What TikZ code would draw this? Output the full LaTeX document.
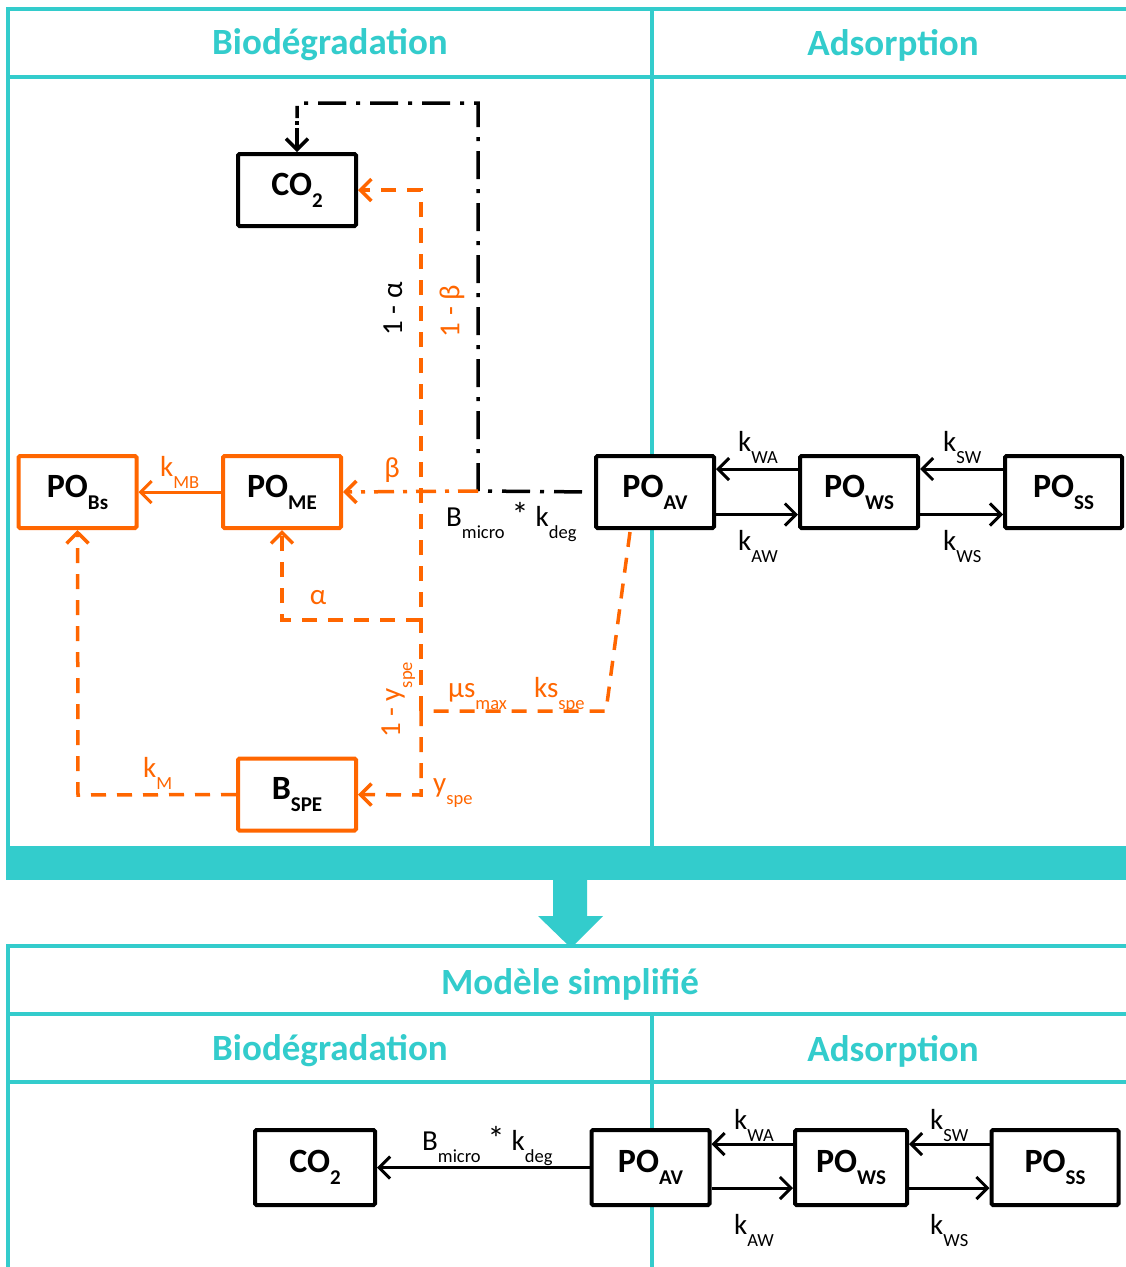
\documentclass[tikz,border=0pt]{standalone}
\usepackage{fontspec}
\setmainfont{Carlito}
\usetikzlibrary{arrows.meta}
\definecolor{tealc}{HTML}{33CCCC}
\definecolor{orng}{HTML}{FF6600}
\newcommand\boxlab[2]{\fontsize{34}{34}\selectfont\bfseries #1\raisebox{-12pt}{\fontsize{21}{21}\selectfont #2}}
\newcommand\klab[2]{\fontsize{29}{29}\selectfont #1\raisebox{-12pt}{\fontsize{18.5}{18.5}\selectfont #2}}
\newcommand\subsm[1]{\raisebox{-12pt}{\fontsize{18.5}{18.5}\selectfont #1}}
\newcommand\astk{{\fontsize{34}{34}\selectfont *}}
\begin{document}
\begin{tikzpicture}[x=1pt,y={(0pt,-1pt)},
  tline/.style={draw=tealc,line width=3.5pt},
  title/.style={text=tealc,font=\fontsize{37}{37}\selectfont\bfseries,inner sep=0pt},
  bbox/.style={draw=black,line width=4pt,rounded corners=1.5pt,minimum width=118pt,minimum height=72pt,inner sep=0pt,fill=white},
  obox/.style={bbox,draw=orng},
  lab/.style={inner sep=0pt,font=\fontsize{29}{29}\selectfont},
  olab/.style={lab,text=orng},
  tip/.style={-{Straight Barb[length=11pt,width=22pt]}},
  barr/.style={tip,draw=black,line width=3pt},
  oarr/.style={tip,draw=orng,line width=3pt},
  odash/.style={draw=orng,line width=3.5pt,dash pattern=on 15pt off 11pt},
  bdashdot/.style={draw=black,line width=3.5pt,dash pattern=on 28pt off 10pt on 4pt off 10pt},
  odashdot/.style={draw=orng,line width=3.5pt,dash pattern=on 20pt off 9pt on 4pt off 9pt}
]
\useasboundingbox (0,0) rectangle (1126,1267);
\fill[white] (0,0) rectangle (1126,1267);

% ---------- top frame ----------
\draw[tline] (6,9) -- (1126,9);
\draw[tline] (8,77) -- (1126,77);
\draw[tline] (8,7) -- (8,847);
\draw[tline] (652,9) -- (652,847);
\fill[tealc] (6,846) rectangle (1126,880);
\fill[tealc] (553,879) -- (587,879) -- (587,916) -- (603,916) -- (571,948) -- (538,916) -- (553,916) -- cycle;
\node[title] (t1) at (330,45) {Biodégradation};
\node[title] (t2) at (893,45) {Adsorption};

% ---------- bottom frame ----------
\draw[tline] (6,946) -- (1126,946);
\draw[tline] (8,1014) -- (1126,1014);
\draw[tline] (8,1082) -- (1126,1082);
\draw[tline] (8,944) -- (8,1267);
\draw[tline] (652,1014) -- (652,1267);
\node[title] (t3) at (570,984) {Modèle simplifié};
\node[title] (t4) at (330,1051) {Biodégradation};
\node[title] (t5) at (893,1051) {Adsorption};

% ---------- top diagram nodes ----------
\node[bbox] (co2) at (297,190) {\boxlab{CO}{2}};
\node[obox] (pobs) at (77.5,492) {\boxlab{PO}{Bs}};
\node[obox] (pome) at (282,492) {\boxlab{PO}{ME}};
\node[bbox] (poav) at (655,492) {\boxlab{PO}{AV}};
\node[bbox] (pows) at (859,492) {\boxlab{PO}{WS}};
\node[bbox,minimum width=117pt] (poss) at (1063.5,492) {\boxlab{PO}{SS}};
\node[obox] (bspe) at (297,794.5) {\boxlab{B}{SPE}};

\coordinate (J) at (478,491);
\coordinate (Jtop) at (478,103);
\coordinate (Ctop) at (297,103);
\coordinate (Cdot) at (297,118);
\coordinate (Carr) at (297,128);
\coordinate (Vtop) at (421,190);
\coordinate (Va) at (421,620);
\coordinate (Aa) at (282,620);
\coordinate (S) at (421,711);
\coordinate (Sr) at (606,711);
\coordinate (Pav) at (630,532);
\coordinate (Vbot) at (421,795);
\coordinate (Km) at (78,795);

% black dash-dot degradation path
\draw[bdashdot,shorten <=12pt] (poav.west) -- (J) -- (Jtop) -- (Ctop) -- (Cdot);
\draw[black,line width=3.5pt] (297,121) -- (297,125);
\draw[barr,line width=3.5pt] (Carr) -- (co2.north);
\draw[odashdot,tip] (J) -- (pome.east);

% orange
\draw[oarr] (pome.west) -- (pobs.east);
\draw[odash] (Pav) -- (Sr) -- (S);
\draw[odash,tip] (S) -- (Vtop) -- (co2.east);
\draw[odash,tip] (Va) -- (Aa) -- (pome.south);
\draw[odash,tip] (S) -- (Vbot) -- (bspe.east);
\draw[odash,tip] (bspe.west) -- (Km) -- (pobs.south);

% adsorption arrows top
\draw[barr] ([yshift=23pt]pows.west) -- ([yshift=23pt]poav.east);
\draw[barr] ([yshift=-22.5pt]poav.east) -- ([yshift=-22.5pt]pows.west);
\draw[barr] ([yshift=23pt]poss.west) -- ([yshift=23pt]pows.east);
\draw[barr] ([yshift=-22.5pt]pows.east) -- ([yshift=-22.5pt]poss.west);

% labels top
\node[olab,anchor=base west] (lkmb) at (160,476) {\klab{k}{MB}};
\node[olab] (lbeta) at (392,470) {β};
\node[olab] (lalpha) at (318,598) {α};
\node[lab,rotate=90] (l1a) at (393,309) {1 - α};
\node[olab,rotate=90] (l1b) at (452,311) {1 - β};
\node[olab,rotate=90,anchor=base] (l1y) at (400,700) {1 - y\subsm{spe}};
\node[olab,anchor=base west] (lyspe) at (433,792) {\klab{y}{spe}};
\node[olab,anchor=base west] (lkm) at (143,777) {\klab{k}{M}};
\node[olab,anchor=base west] (lmus) at (448,697) {\klab{µs}{max}};
\node[olab,anchor=base west] (lkss) at (534,697) {\klab{ks}{spe}};
\node[lab,anchor=base west] (lbk) at (446,526) {B\subsm{micro}\hspace{7pt}\astk\hspace{7pt}k\subsm{deg}};
\node[lab,anchor=base west] (lkwa) at (738,451) {\klab{k}{WA}};
\node[lab,anchor=base west] (lkaw) at (738,550) {\klab{k}{AW}};
\node[lab,anchor=base west] (lksw) at (943,451) {\klab{k}{SW}};
\node[lab,anchor=base west] (lkws) at (943,550) {\klab{k}{WS}};

% ---------- bottom diagram ----------
\node[bbox,minimum width=120pt,minimum height=75pt] (co2b) at (315,1167.5) {\boxlab{CO}{2}};
\node[bbox,minimum width=118pt,minimum height=75pt] (poavb) at (650.5,1167.5) {\boxlab{PO}{AV}};
\node[bbox,minimum width=112pt,minimum height=75pt] (powsb) at (851,1167.5) {\boxlab{PO}{WS}};
\node[bbox,minimum width=127pt,minimum height=75pt] (possb) at (1055,1167.5) {\boxlab{PO}{SS}};

\draw[barr] (poavb.west) -- (co2b.east);
\draw[barr] ([yshift=23.5pt]powsb.west) -- ([yshift=23.5pt]poavb.east);
\draw[barr] ([yshift=-20.5pt]poavb.east) -- ([yshift=-20.5pt]powsb.west);
\draw[barr] ([yshift=23.5pt]possb.west) -- ([yshift=23.5pt]powsb.east);
\draw[barr] ([yshift=-20.5pt]powsb.east) -- ([yshift=-20.5pt]possb.west);

\node[lab,anchor=base west] (lbkb) at (422,1150) {B\subsm{micro}\hspace{7pt}\astk\hspace{7pt}k\subsm{deg}};
\node[lab,anchor=base west] (lkwab) at (734,1129) {\klab{k}{WA}};
\node[lab,anchor=base west] (lkawb) at (734,1234) {\klab{k}{AW}};
\node[lab,anchor=base west] (lkswb) at (930,1129) {\klab{k}{SW}};
\node[lab,anchor=base west] (lkwsb) at (930,1234) {\klab{k}{WS}};
\end{tikzpicture}
\end{document}
